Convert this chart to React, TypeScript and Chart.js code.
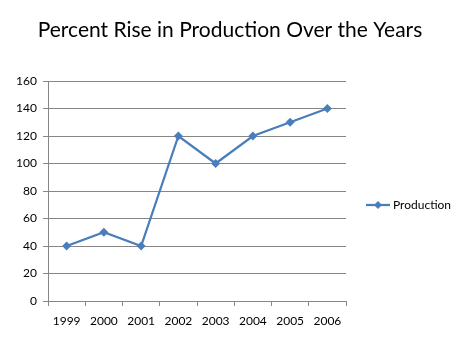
import React, { useEffect, useRef } from "react";
import { Chart, registerables } from "chart.js";

Chart.register(...registerables);

const TITLE = "Percent Rise in Production Over the Years";
const SERIES_LABEL = "Production";
const YEARS = ["1999", "2000", "2001", "2002", "2003", "2004", "2005", "2006"];
const PRODUCTION = [40, 50, 40, 120, 100, 120, 130, 140];
const Y_MIN = 0;
const Y_MAX = 160;
const Y_STEP = 20;

const FONT = "Lato, 'Open Sans', sans-serif";
const LINE_COLOR = "#4a7ebb";
const GRID_COLOR = "#868686";

const titlePlugin = {
  id: "pageTitle",
  afterDraw(chart: any) {
    const ctx = chart.ctx;
    ctx.save();
    ctx.fillStyle = "#000";
    ctx.font = `21px ${FONT}`;
    ctx.textAlign = "center";
    ctx.textBaseline = "middle";
    ctx.fillText(TITLE, chart.width / 2 - 1, 30);
    ctx.restore();
  },
};

const legendPlugin = {
  id: "sideLegend",
  afterDraw(chart: any) {
    const ctx = chart.ctx;
    const ds = chart.data.datasets[0];
    const x0 = chart.chartArea.right + 20;
    const y = Math.round((chart.chartArea.top + chart.chartArea.bottom) / 2) + 14;
    ctx.save();
    ctx.strokeStyle = ds.borderColor;
    ctx.lineWidth = 2.25;
    ctx.beginPath();
    ctx.moveTo(x0, y);
    ctx.lineTo(x0 + 24, y);
    ctx.stroke();
    const cx = x0 + 12;
    ctx.fillStyle = ds.borderColor;
    ctx.beginPath();
    ctx.moveTo(cx, y - 4);
    ctx.lineTo(cx + 4, y);
    ctx.lineTo(cx, y + 4);
    ctx.lineTo(cx - 4, y);
    ctx.closePath();
    ctx.fill();
    ctx.fillStyle = "#000";
    ctx.font = `12px ${FONT}`;
    ctx.textBaseline = "middle";
    ctx.textAlign = "left";
    ctx.fillText(ds.label, x0 + 27, y);
    ctx.restore();
  },
};

export default function App() {
  const ref = useRef<HTMLCanvasElement>(null);
  useEffect(() => {
    document.body.style.margin = "0";
    const chart = new Chart(ref.current!, {
      type: "line",
      data: {
        labels: YEARS,
        datasets: [
          {
            label: SERIES_LABEL,
            data: PRODUCTION,
            borderColor: LINE_COLOR,
            backgroundColor: LINE_COLOR,
            borderWidth: 2.25,
            pointStyle: "rectRot",
            pointRadius: 4.5,
            pointBorderWidth: 0,
            tension: 0,
          },
        ],
      },
      options: {
        responsive: false,
        animation: false,
        layout: { padding: { left: 0, right: 116, top: 81, bottom: 0 } },
        plugins: {
          legend: { display: false },
          tooltip: { enabled: false },
          title: { display: false },
        },
        scales: {
          x: {
            offset: true,
            grid: {
              display: true,
              drawOnChartArea: false,
              drawTicks: true,
              tickLength: 5,
              color: GRID_COLOR,
              offset: true,
            },
            border: { display: true, color: GRID_COLOR, width: 1 },
            ticks: { color: "#000", font: { family: FONT, size: 12 }, padding: 8, maxRotation: 0 },
            afterFit(scale: any) {
              scale.height = 52;
            },
          },
          y: {
            min: Y_MIN,
            max: Y_MAX,
            grid: { color: GRID_COLOR, tickLength: 5, drawTicks: true },
            border: { display: true, color: GRID_COLOR, width: 1 },
            ticks: { stepSize: Y_STEP, color: "#000", font: { family: FONT, size: 12 }, padding: 6 },
            afterFit(scale: any) {
              scale.width = 48;
            },
          },
        },
      },
      plugins: [titlePlugin, legendPlugin],
    });
    return () => chart.destroy();
  }, []);
  return (
    <div style={{ position: "absolute", left: 0, top: 0, width: 462, height: 353, background: "#fff" }}>
      <canvas ref={ref} width={462} height={353} style={{ width: 462, height: 353 }} />
    </div>
  );
}
